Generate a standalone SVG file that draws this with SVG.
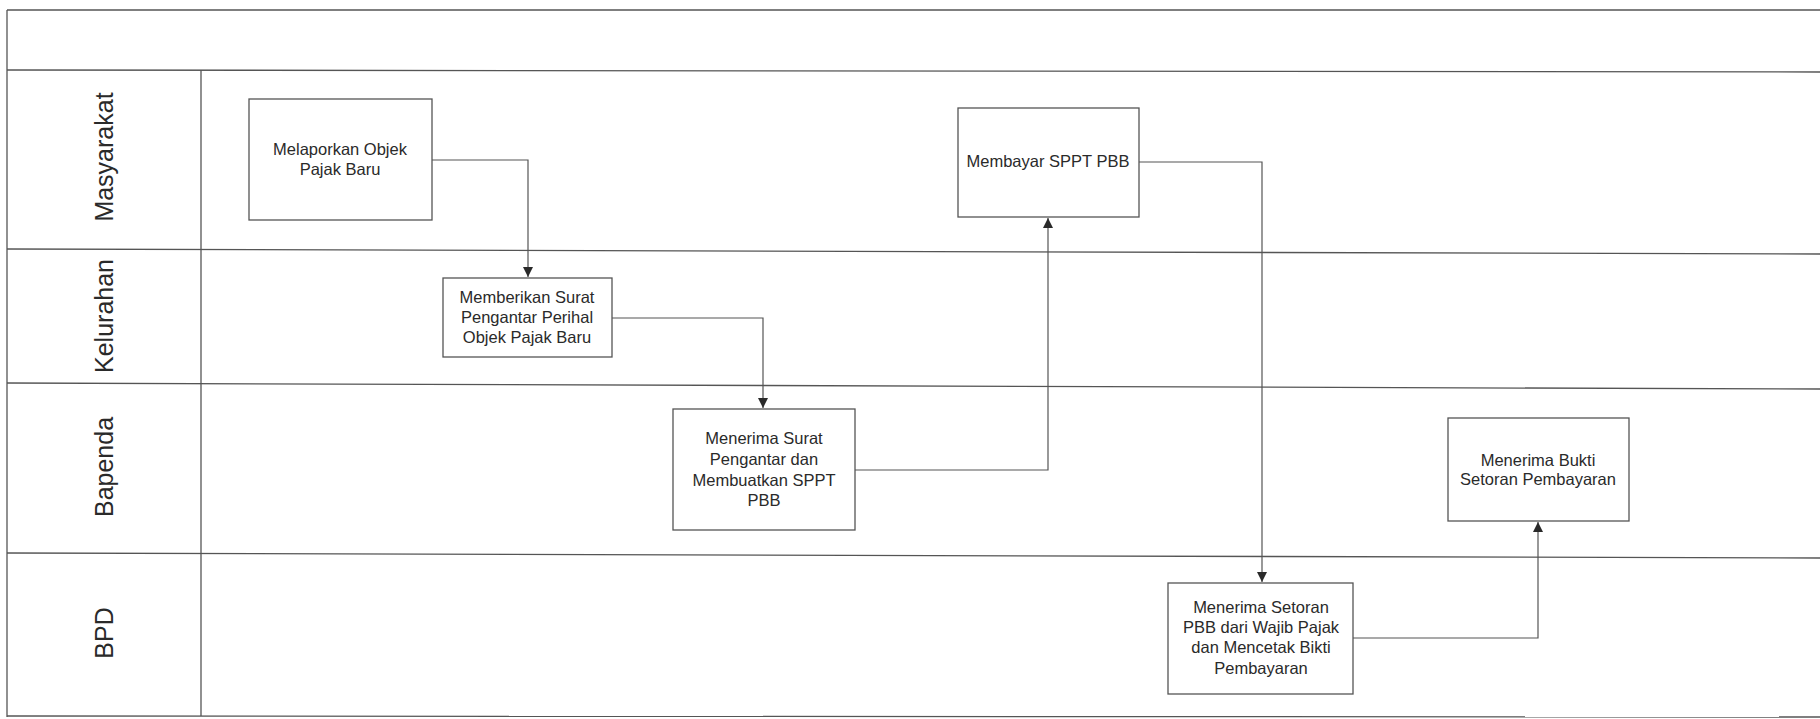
<svg xmlns="http://www.w3.org/2000/svg" width="1820" height="719" viewBox="0 0 1820 719">
<style>
.frame{stroke:#555;stroke-width:1.3;fill:none}
.box{fill:#fff;stroke:#555;stroke-width:1.3}
.lbl{font-family:"Liberation Sans",Arial,sans-serif;font-size:16.5px;fill:#2a2a2a;text-anchor:middle}
.lane{font-family:"Liberation Sans",Arial,sans-serif;font-size:25px;fill:#2a2a2a;text-anchor:middle}
.conn{stroke:#555;stroke-width:1.2;fill:none}
</style>
<defs>
<marker id="arr" viewBox="0 0 10 10" refX="10" refY="5" markerWidth="10" markerHeight="10" markerUnits="userSpaceOnUse" orient="auto">
<path d="M0,0 L10,5 L0,10 Z" fill="#2a2a2a"/>
</marker>
</defs>
<rect width="1820" height="719" fill="#fff"/>
<g id="frame">
<line class="frame" x1="7" y1="10" x2="1820" y2="10"/>
<line class="frame" x1="7" y1="10" x2="7" y2="717"/>
<line class="frame" x1="7" y1="70" x2="1820" y2="72"/>
<line class="frame" x1="7" y1="249" x2="1820" y2="254"/>
<line class="frame" x1="7" y1="383" x2="1820" y2="389"/>
<line class="frame" x1="7" y1="553" x2="1820" y2="558"/>
<line class="frame" x1="7" y1="716" x2="1820" y2="717"/>
<line class="frame" x1="201" y1="70" x2="201" y2="716"/>
</g>
<g id="lanes">
<text class="lane" transform="translate(113,157) rotate(-90)">Masyarakat</text>
<text class="lane" transform="translate(113,316) rotate(-90)">Kelurahan</text>
<text class="lane" transform="translate(113,467) rotate(-90)">Bapenda</text>
<text class="lane" transform="translate(113,633) rotate(-90)">BPD</text>
</g>
<g id="connectors">
<path class="conn" d="M432,160 H528 V277" marker-end="url(#arr)"/>
<path class="conn" d="M612,318 H763 V408" marker-end="url(#arr)"/>
<path class="conn" d="M855,470 H1048 V218" marker-end="url(#arr)"/>
<path class="conn" d="M1139,162 H1262 V582" marker-end="url(#arr)"/>
<path class="conn" d="M1353,638 H1538 V522" marker-end="url(#arr)"/>
</g>
<g id="n1">
<rect class="box" x="249" y="99" width="183" height="121"/>
<text class="lbl" x="340" y="155">Melaporkan Objek</text>
<text class="lbl" x="340" y="175">Pajak Baru</text>
</g>
<g id="n2">
<rect class="box" x="443" y="278" width="169" height="79"/>
<text class="lbl" x="527" y="303">Memberikan Surat</text>
<text class="lbl" x="527" y="323">Pengantar Perihal</text>
<text class="lbl" x="527" y="343">Objek Pajak Baru</text>
</g>
<g id="n3">
<rect class="box" x="673" y="409" width="182" height="121"/>
<text class="lbl" x="764" y="444">Menerima Surat</text>
<text class="lbl" x="764" y="465">Pengantar dan</text>
<text class="lbl" x="764" y="486">Membuatkan SPPT</text>
<text class="lbl" x="764" y="506">PBB</text>
</g>
<g id="n4">
<rect class="box" x="958" y="108" width="181" height="109"/>
<text class="lbl" x="1048" y="167">Membayar SPPT PBB</text>
</g>
<g id="n5">
<rect class="box" x="1448" y="418" width="181" height="103"/>
<text class="lbl" x="1538" y="466">Menerima Bukti</text>
<text class="lbl" x="1538" y="485">Setoran Pembayaran</text>
</g>
<g id="n6">
<rect class="box" x="1168" y="583" width="185" height="111"/>
<text class="lbl" x="1261" y="613">Menerima Setoran</text>
<text class="lbl" x="1261" y="633">PBB dari Wajib Pajak</text>
<text class="lbl" x="1261" y="653">dan Mencetak Bikti</text>
<text class="lbl" x="1261" y="674">Pembayaran</text>
</g>
</svg>
